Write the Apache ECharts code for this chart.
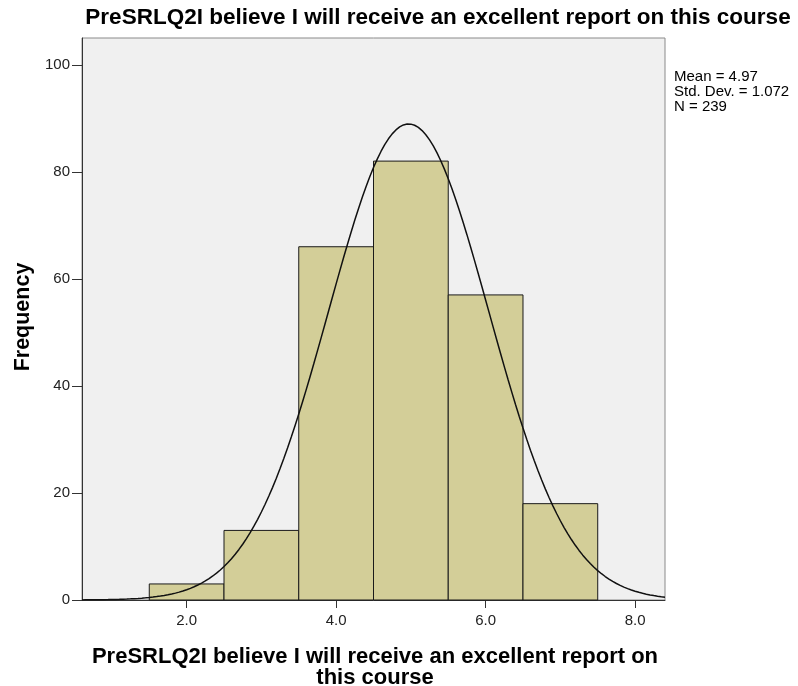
<!DOCTYPE html>
<html><head><meta charset="utf-8">
<script src="https://cdn.jsdelivr.net/npm/echarts@6/dist/echarts.min.js"></script>
<style>html,body{margin:0;padding:0;background:#fff}#c{width:798px;height:686px}</style>
</head><body><div id="c"></div>
<script>
var binStarts = [1.5, 2.5, 3.5, 4.5, 5.5, 6.5];
var binEnds = [2.5, 3.5, 4.5, 5.5, 6.5, 7.5];
var counts = [3, 13, 66, 82, 57, 18];
var xTicks = [2, 4, 6, 8];
var yTicks = [0, 20, 40, 60, 80, 100];
var statMean = 4.97, statSD = 1.072, statN = 239, binWidth = 1;
var titleText = 'PreSRLQ2I believe I will receive an excellent report on this course';
var xName = 'PreSRLQ2I believe I will receive an excellent report on\nthis course';
var yName = 'Frequency';
var statsLines = ['Mean = 4.97', 'Std. Dev. = 1.072', 'N = 239'];

var histData = binStarts.map(function(s, i){ return [s, binEnds[i], counts[i]]; });
var curve = [];
for (var x = 0.6; x <= 8.4001; x += 0.05) {
  var z = (x - statMean) / statSD;
  curve.push([x, statN * binWidth * Math.exp(-0.5 * z * z) / (statSD * Math.sqrt(2 * Math.PI))]);
}
var F = 'Liberation Sans, Arial, sans-serif';
var chart = echarts.init(document.getElementById('c'));
chart.setOption({
  animation: false,
  backgroundColor: '#ffffff',
  grid: {left: 82, right: 133, top: 38, bottom: 86, show: true, backgroundColor: '#f0f0f0', borderColor: '#8a8a8a', borderWidth: 1},
  graphic: [
    {type: 'text', x: 438, y: 18, style: {text: titleText, font: 'bold 22.5px ' + F, fill: '#000', align: 'center', verticalAlign: 'middle'}},
    {type: 'text', x: 674, y: 69, style: {text: statsLines.join('\n'), font: '15px ' + F, fill: '#000', lineHeight: 15}},
    {type: 'text', x: 375, y: 646, style: {text: xName, font: 'bold 22px ' + F, fill: '#000', align: 'center', lineHeight: 21}},
    {type: 'text', x: 23, y: 317, rotation: Math.PI / 2, style: {text: yName, font: 'bold 21.5px ' + F, fill: '#000', align: 'center', verticalAlign: 'middle'}}
  ],
  xAxis: {
    type: 'value', min: 0.6, max: 8.4,
    splitLine: {show: false},
    axisLine: {show: true, lineStyle: {color: '#333', width: 1}},
    axisTick: {show: true, customValues: xTicks, length: 8, lineStyle: {color: '#333'}},
    axisLabel: {show: true, customValues: xTicks, formatter: function(v){ return v.toFixed(1); }, color: '#222', fontSize: 15, fontFamily: F, margin: 13}
  },
  yAxis: {
    type: 'value', min: 0, max: 105,
    splitLine: {show: false},
    axisLine: {show: true, lineStyle: {color: '#333', width: 1}},
    axisTick: {show: true, customValues: yTicks, length: 10, lineStyle: {color: '#333'}},
    axisLabel: {show: true, customValues: yTicks, color: '#222', fontSize: 15, fontFamily: F, margin: 12}
  },
  series: [
    {
      type: 'custom',
      data: histData,
      renderItem: function(params, api){
        var p0 = api.coord([api.value(0), api.value(2)]);
        var p1 = api.coord([api.value(1), 0]);
        return {type: 'rect', shape: {x: p0[0], y: p0[1], width: p1[0] - p0[0], height: p1[1] - p0[1]},
          style: {fill: '#d3ce98', stroke: '#1a1a1a', lineWidth: 1}};
      },
      encode: {x: [0, 1], y: 2},
      z: 2
    },
    {
      type: 'line', data: curve, showSymbol: false, smooth: false,
      lineStyle: {color: '#111', width: 1.5}, z: 3
    }
  ]
});
</script></body></html>
